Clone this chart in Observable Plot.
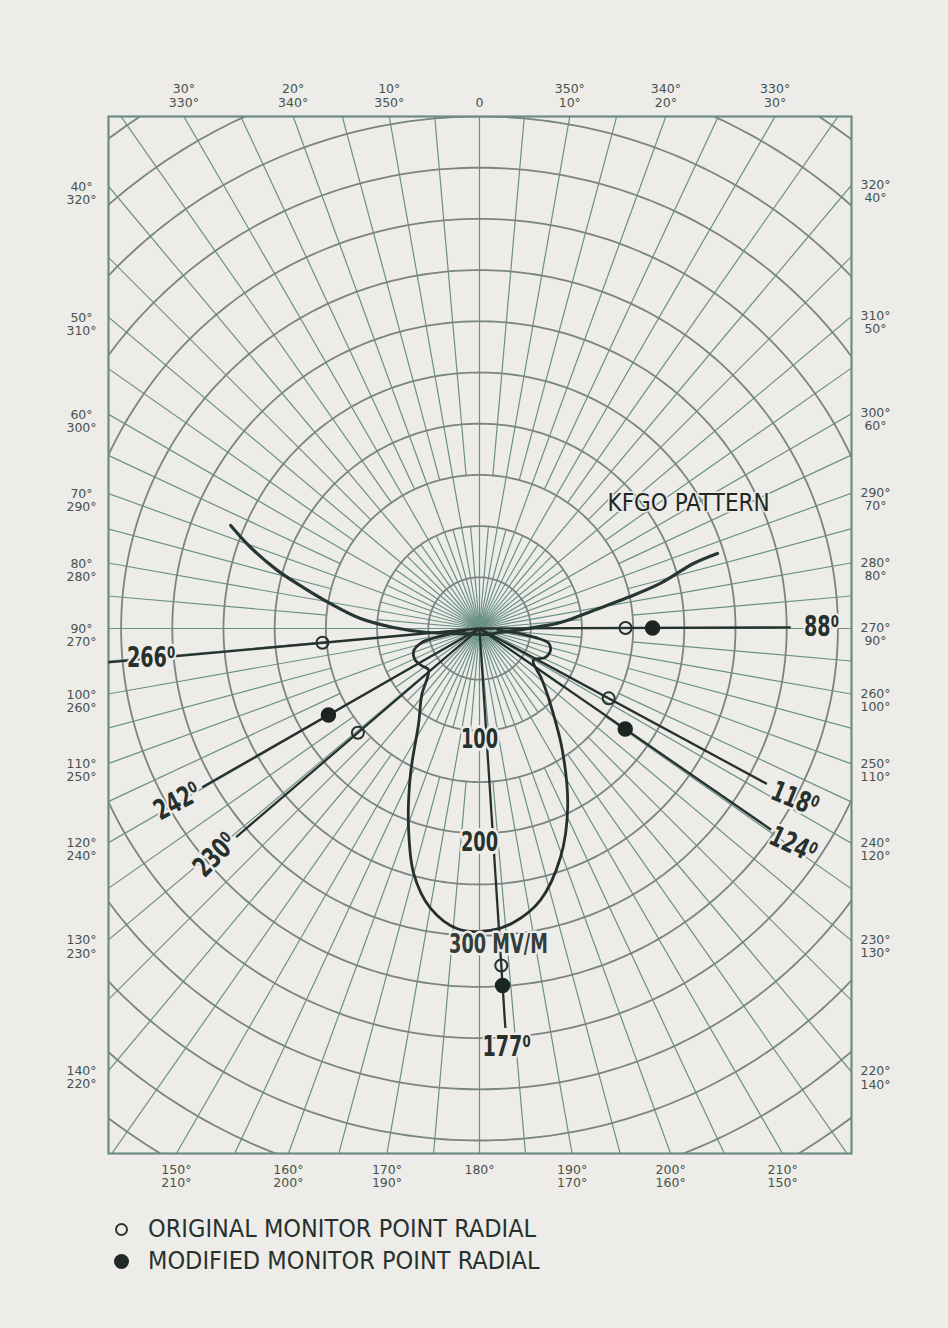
<!DOCTYPE html>
<html>
<head>
<meta charset="utf-8">
<script src="https://cdn.jsdelivr.net/npm/d3@7"></script>
<script src="https://cdn.jsdelivr.net/npm/@observablehq/plot@0.6"></script>
<style>
  html, body { margin: 0; padding: 0; }
  body { width: 948px; height: 1328px; background: #edece8; position: relative; overflow: hidden; }
  #chart svg { display: block; background: transparent; }
  #legend { position: absolute; left: 112px; top: 1213px; color: #27312e;
    font-family: "Liberation Sans Narrow", "DejaVu Sans Condensed", "Roboto Condensed", sans-serif;
    font-stretch: condensed; font-size: 25px; line-height: 32px; }
  #legend .row { display: flex; align-items: center; height: 32px; }
  #legend .sym { width: 13px; height: 13px; border-radius: 50%; box-sizing: border-box; margin-right: 20px; margin-left: 3px; }
  #legend .open { border: 2px solid #2a3531; background: transparent; }
  #legend .fill { background: #1f2926; width: 15px; height: 15px; margin-left: 2px; margin-right: 19px; }
</style>
</head>
<body>
<div id="chart"></div>
<div id="legend"></div>
<script>
// ---------------- DATA (bearings in degrees, values in mV/m) ----------------
// KFGO pattern: main (southern) lobe with the two small side lobes
const lobeBearings = [262, 259, 258, 256, 251, 244, 237, 231, 221, 212.7, 205.4, 200, 195, 190, 184.2, 177.9, 173.4, 167.4, 160.5, 153.8, 145.8, 135, 129, 120.6, 114, 107, 102, 99, 97, 95];
const lobeValues   = [14, 32, 47, 59, 68, 70, 67, 64, 86, 110, 157, 203, 248, 277, 294, 295, 289, 272, 237, 195, 144, 95, 78, 61, 70, 72.5, 69, 55, 38, 18];
// KFGO pattern: the long northern arms
const armBearings = [292.5, 289.5, 286, 283.1, 279.5, 274.8, 270.7, 265.6, 255, 200, 130, 109.7, 89, 85.8, 81, 78.2, 76, 73.1, 72.5];
const armValues   = [263, 237, 205, 176.5, 147.6, 116.6, 84, 51, 19, 6, 9, 14.5, 52.7, 79.3, 112.7, 147.7, 182, 218.4, 243.7];

// Monitor point radials
const radialNames    = ["88", "118", "124", "177", "230", "242", "266"];
const radialBearings = [89.8, 118.4, 124.6, 176.3, 229.4, 240.2, 264.8];
const radialLengths  = [304, 319, 346, 391, 313, 312, 372];
const radialLabelR   = [334, 350, 372, 410, 340, 340, 322];
const radialLabelRot = [0, 22, 25, 0, -45, -28, 0];

// Original (open) and modified (filled) monitor points
const originalBearings = [89.8, 118.4, 176.3, 229.4, 264.8];
const originalValues   = [142.6, 143.4, 329.8, 156.4, 154];
const modifiedBearings = [89.8, 124.6, 176.3, 240.2];
const modifiedValues   = [169, 172.9, 349.3, 170];

// Field-strength scale labels on the 180° radial
const scaleValues = [100, 200];
const scaleTexts  = ["100", "200"];
const scaleUnitValue = 300;
const scaleUnitText = "300 MV/M";

// Polar grid
const ringStep = 50;            // mV/m between circles
const ringMax = 700;
const frameBearings = d3.range(0, 360, 10);   // labelled directions round the frame
const patternTitle = "KFGO PATTERN";
const patternTitleBearing = 59.1, patternTitleValue = 238;
const legendItems = ["ORIGINAL MONITOR POINT RADIAL", "MODIFIED MONITOR POINT RADIAL"];

// ---------------- helpers ----------------
const rad = d => d * Math.PI / 180;
const toXY = (b, r) => ({ x: r * Math.sin(rad(b)), y: r * Math.cos(rad(b)) });

// layout
const W = 948, H = 1200;
const frameL = 108, frameR = 851, frameT = 116, frameB = 1153;
const CX = 479, CY = 628;
const PX = 1.024; // pixels per mV/m (equal aspect)
const xDomain = [-(CX - frameL) / PX, (frameR - CX) / PX];
const yDomain = [-(frameB - CY) / PX, (CY - frameT) / PX];

// grid
const ringData = [];
for (let r = ringStep; r <= ringMax; r += ringStep)
  for (let a = 0; a <= 360; a += 1) ringData.push({ r, ...toXY(a, r) });

const spokes = [];
for (let a = 0; a < 360; a += 5) {
  const major = a % 10 === 0;
  const segs = major ? [[0, 900]] : [[0, 100], [150, 900]];
  for (const [r0, r1] of segs) {
    const p0 = toXY(a, r0), p1 = toXY(a, r1);
    spokes.push({ x1: p0.x, y1: p0.y, x2: p1.x, y2: p1.y });
  }
}

// pattern
const lobe = lobeBearings.map((b, i) => toXY(b, lobeValues[i]));
const arm = armBearings.map((b, i) => toXY(b, armValues[i]));

// radials
const radials = radialNames.map((n, i) => {
  const e = toXY(radialBearings[i], radialLengths[i]);
  const l = toXY(radialBearings[i], radialLabelR[i]);
  return { name: n, x2: e.x, y2: e.y, lx: l.x, ly: l.y, rot: radialLabelRot[i] };
});
const originals = originalBearings.map((b, i) => toXY(b, originalValues[i]));
const modifieds = modifiedBearings.map((b, i) => toXY(b, modifiedValues[i]));

const scaleLabels = scaleValues.map((v, i) => ({ ...toXY(180, v + 9), t: scaleTexts[i] }));
const unitLabel = [{ ...toXY(180, scaleUnitValue + 9), t: scaleUnitText }];

// frame direction labels
function edgeHit(b) {
  const s = Math.sin(rad(b)), c = Math.cos(rad(b));
  let t = Infinity, side = null;
  if (c > 1e-9 && yDomain[1] / c < t) { t = yDomain[1] / c; side = "top"; }
  if (c < -1e-9 && yDomain[0] / c < t) { t = yDomain[0] / c; side = "bottom"; }
  if (s > 1e-9 && xDomain[1] / s < t) { t = xDomain[1] / s; side = "right"; }
  if (s < -1e-9 && xDomain[0] / s < t) { t = xDomain[0] / s; side = "left"; }
  return { x: t * s, y: t * c, side };
}
const frameLabels = frameBearings.map(b => {
  const h = edgeHit(b);
  const ccw = (360 - b) % 360;
  let text;
  if (b === 0) text = "0";
  else if (b === 180) text = "180°";
  else text = `${ccw}°\n${b}°`;
  return { ...h, text };
});
const bySide = s => frameLabels.filter(d => d.side === s);

const condensed = "'Liberation Sans Narrow', 'DejaVu Sans Condensed', 'Roboto Condensed', sans-serif";
const ink = "#26302d";
const paper = "#edece8";
const gridGreen = "#6a9084";
const gridGray = "#7a8480";
const tickInk = "#47524d";

const tp = toXY(patternTitleBearing, patternTitleValue);
const lab = { fontSize: 12.5, fill: tickInk, fontFamily: "DejaVu Sans", lineHeight: 1.05 };

const chart = Plot.plot({
  width: W, height: H,
  marginLeft: frameL, marginRight: W - frameR, marginTop: frameT, marginBottom: H - frameB,
  x: { domain: xDomain, axis: null },
  y: { domain: yDomain, axis: null },
  style: { background: "transparent", overflow: "visible" },
  marks: [
    // grid
    Plot.link(spokes, { x1: "x1", y1: "y1", x2: "x2", y2: "y2", stroke: gridGreen, strokeWidth: 1.2, clip: true }),
    Plot.line(ringData, { x: "x", y: "y", z: "r", stroke: gridGray, strokeWidth: 1.8, clip: true }),
    Plot.frame({ stroke: "#6b8c82", strokeWidth: 2.2 }),
    // frame direction labels
    Plot.text(bySide("top"), { x: "x", y: "y", text: "text", lineAnchor: "bottom", dy: -10, ...lab }),
    Plot.text(bySide("bottom"), { x: "x", y: "y", text: "text", lineAnchor: "top", dy: 11, ...lab }),
    Plot.text(bySide("left"), { x: "x", y: "y", text: "text", dx: -27, dy: 7, ...lab }),
    Plot.text(bySide("right"), { x: "x", y: "y", text: "text", dx: 24, dy: 6, ...lab }),
    // monitor point radials
    Plot.link(radials, { x1: 0, y1: 0, x2: "x2", y2: "y2", stroke: ink, strokeWidth: 2.3, clip: true }),
    // pattern
    Plot.line(lobe, { x: "x", y: "y", curve: "catmull-rom", stroke: "#262f2c", strokeWidth: 2.8 }),
    Plot.line(arm, { x: "x", y: "y", curve: "catmull-rom", stroke: "#263632", strokeWidth: 3.2, strokeLinecap: "round" }),
    // points
    Plot.dot(originals, { x: "x", y: "y", r: 6, stroke: ink, strokeWidth: 2, fill: "none" }),
    Plot.dot(modifieds, { x: "x", y: "y", r: 7, fill: "#1c2522", stroke: "#1c2522" }),
    // labels
    Plot.text(scaleLabels, { x: "x", y: "y", text: "t", className: "narrow", fontSize: 26, fontWeight: 600, fontFamily: condensed, fill: ink, stroke: paper, strokeWidth: 6 }),
    Plot.text(unitLabel, { x: "x", y: "y", text: "t", className: "narrow", dx: 19, fontSize: 26, fontWeight: 600, fontFamily: condensed, fill: "#333e3a", stroke: paper, strokeWidth: 5 }),
    Plot.text(radials, { x: "lx", y: "ly", text: d => d.name + "\u2070", className: "narrow", rotate: "rot", fontSize: 28, fontWeight: 600, fontFamily: condensed, fill: ink, stroke: paper, strokeWidth: 5 }),
    Plot.text([tp], { x: "x", y: "y", text: () => patternTitle, fontSize: 24, fontFamily: condensed, fill: "#1f2725", stroke: paper, strokeWidth: 3 })
  ]
});
// narrow the big hand-lettered labels horizontally
d3.select(chart).selectAll("g.narrow text").each(function () {
  const t = this.getAttribute("transform") || "";
  this.setAttribute("transform", t + " scale(0.76,1)");
});
document.getElementById("chart").appendChild(chart);

// legend
const lg = document.getElementById("legend");
legendItems.forEach((t, i) => {
  const row = document.createElement("div");
  row.className = "row";
  const s = document.createElement("span");
  s.className = "sym " + (i === 0 ? "open" : "fill");
  const tx = document.createElement("span");
  tx.textContent = t;
  row.appendChild(s); row.appendChild(tx);
  lg.appendChild(row);
});
</script>
</body>
</html>
